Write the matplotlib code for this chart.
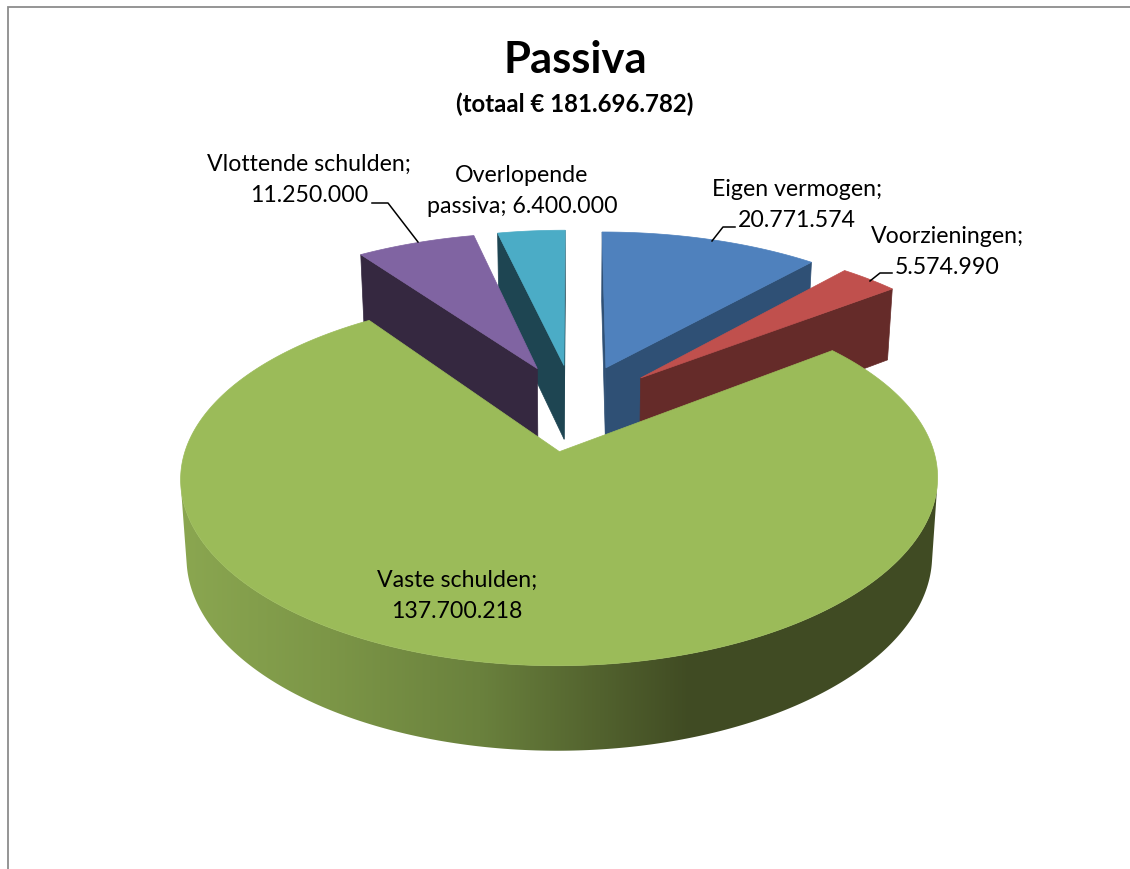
import numpy as np
import matplotlib
matplotlib.use('Agg')
import matplotlib.pyplot as plt
from matplotlib.patches import Polygon

plt.rcParams['font.family'] = ['Lato', 'DejaVu Sans']

# Balance sheet items, in the order they go round the pie (clockwise from 12 o'clock)
names = ['Eigen vermogen', 'Voorzieningen', 'Vaste schulden', 'Vlottende schulden', 'Overlopende passiva']
values = [20771574, 5574990, 137700218, 11250000, 6400000]
top_colors = ['#4f81bd', '#c0504d', '#9bbb59', '#8064a2', '#4bacc6']
side_colors = ['#2f5075', '#652b29', '#404b23', '#352840', '#1e4552']

title = 'Passiva'
subtitle = '(totaal € 181.696.782)'

# label text, centre of the text block, in pixels
label_texts = ['Eigen vermogen;\n20.771.574', 'Voorzieningen;\n5.574.990', 'Vaste schulden;\n137.700.218',
               'Vlottende schulden;\n11.250.000', 'Overlopende\npassiva; 6.400.000']
label_pos = [(797, 205), (947, 252), (457, 596), (309, 180), (522, 191)]
leaders = [[(712, 242), (723, 228), (735, 228)],
           [(870, 282), (880, 274), (892, 274)],
           [(418, 243), (388, 204), (372, 204)]]

# Camera model of the 3D pie, all in pixels on the canvas
X0, Y0 = 574.0, 408.0
F_X, F_Y = 361.0, 167.0
PERSP_X, PERSP_Y = 0.14, 0.15
EXPLODE = 0.26
DEPTH_A, DEPTH_B = 34.0, 41.4
SHRINK = 0.985
# paint order, back to front
DRAW_ORDER = [4, 3, 0, 1, 2]


def project(u, v, bottom=False):
    s = 1.0 / (1.0 + PERSP_Y * v)
    x = F_X * u / (1.0 + PERSP_X * v)
    y = Y0 - F_Y * v * s
    if bottom:
        x *= SHRINK
        y += DEPTH_A + DEPTH_B * s
    return X0 + x, y


def area(xs, ys):
    return 0.5 * np.sum(xs * np.roll(ys, -1) - np.roll(xs, -1) * ys)


def green_gradient(xs):
    # the rim of the big slice runs from light on the left to dark on the right
    stops = [185, 330, 480, 600, 690, 940]
    r = np.interp(xs, stops, [0x8a, 0x7c, 0x6a, 0x52, 0x40, 0x40])
    g = np.interp(xs, stops, [0xa6, 0x96, 0x81, 0x62, 0x4b, 0x4b])
    b = np.interp(xs, stops, [0x50, 0x47, 0x3d, 0x2e, 0x23, 0x23])
    return np.dstack([r, g, b]) / 255


fig = plt.figure(figsize=(11.3, 8.7), dpi=100)
ax = fig.add_axes([0, 0, 1, 1])

# chart area border, cut off on the right and bottom
ax.plot([8, 8, 1130], [870, 8, 8], color='#8c8c8c', lw=1.3, solid_joinstyle='miter')

fractions = np.array(values) / np.sum(values)
edges = np.concatenate([[0.0], np.cumsum(fractions)]) * 2 * np.pi

for order, i in enumerate(DRAW_ORDER):
    z = 2 + order
    start, end = edges[i], edges[i + 1]
    mid = 0.5 * (start + end)
    cu, cv = EXPLODE * np.sin(mid), EXPLODE * np.cos(mid)
    th = np.linspace(start, end, max(int((end - start) * 90), 8) + 1)
    rim_u, rim_v = cu + np.sin(th), cv + np.cos(th)
    tx, ty = project(rim_u, rim_v)
    bx, by = project(rim_u, rim_v, bottom=True)
    apex_x, apex_y = project(cu, cv)
    apex_bx, apex_by = project(cu, cv, bottom=True)

    # flat cut faces, only those turned towards the viewer
    for j, sign in ((0, -1), (-1, 1)):
        fx = np.array([apex_x, tx[j], bx[j], apex_bx])
        fy = np.array([apex_y, ty[j], by[j], apex_by])
        if area(fx, fy) * sign > 0:
            ax.fill(fx, fy, color=side_colors[i], lw=0.5, zorder=z)

    # curved outer wall, the part that faces the viewer
    front = [k for k in range(len(th) - 1)
             if area(np.array([tx[k], tx[k + 1], bx[k + 1], bx[k]]),
                     np.array([ty[k], ty[k + 1], by[k + 1], by[k]])) < 0]
    if front:
        a, b = front[0], front[-1] + 2
        wall = np.column_stack([np.r_[tx[a:b], bx[a:b][::-1]], np.r_[ty[a:b], by[a:b][::-1]]])
        if names[i] == 'Vaste schulden':
            grad = green_gradient(np.linspace(170, 950, 780))
            img = ax.imshow(grad, extent=[170, 950, 780, 400], aspect='auto', zorder=z)
            clip = Polygon(wall, closed=True, transform=ax.transData, fc='none', ec='none')
            ax.add_patch(clip)
            img.set_clip_path(clip)
        else:
            ax.fill(wall[:, 0], wall[:, 1], color=side_colors[i], lw=0.5, zorder=z)

    ax.fill(np.r_[apex_x, tx], np.r_[apex_y, ty], color=top_colors[i], lw=0.5, zorder=z + 0.5)

for pts in leaders:
    ax.plot(*zip(*pts), color='black', lw=1.1, zorder=12)

ax.text(575, 60, title, fontsize=31.3, fontweight='bold', ha='center', va='center', color='black')
ax.text(575, 104, subtitle, fontsize=17.3, fontweight='bold', ha='center', va='center', color='black')
for txt, (x, y) in zip(label_texts, label_pos):
    ax.text(x, y, txt, fontsize=16.7, ha='center', va='center', linespacing=1.6, color='black', zorder=13)

ax.set_xlim(0, 1130)
ax.set_ylim(870, 0)
ax.axis('off')

fig.savefig('out.png', dpi=100, facecolor='white')
